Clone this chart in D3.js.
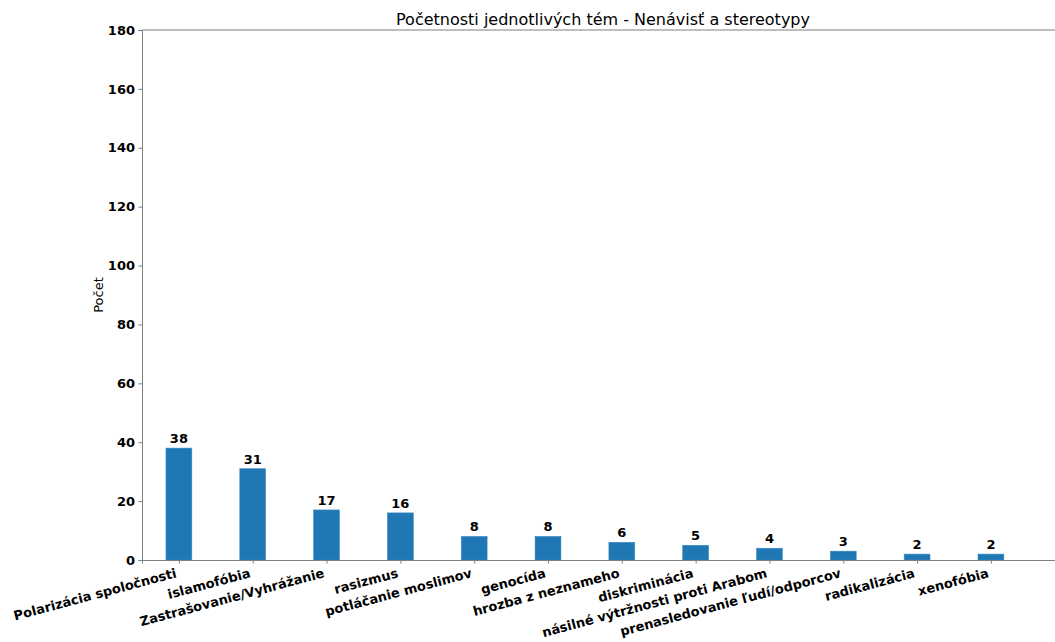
<!DOCTYPE html>
<html><head><meta charset="utf-8">
<script src="https://cdn.jsdelivr.net/npm/d3@7"></script>
<style>body{margin:0;background:#fff;} text{font-family:"DejaVu Sans",sans-serif;}</style>
</head><body><svg id="c" width="1055" height="642"></svg>
<script>
const categories = ["Polarizácia spoločnosti","islamofóbia","Zastrašovanie/Vyhrážanie","rasizmus","potláčanie moslimov","genocída","hrozba z neznameho","diskriminácia","násilné výtržnosti proti Arabom","prenasledovanie ľudí/odporcov","radikalizácia","xenofóbia"];
const counts = [38,31,17,16,8,8,6,5,4,3,2,2];
const yTicks = [0,20,40,60,80,100,120,140,160,180];
const title = "Početnosti jednotlivých tém - Nenávisť a stereotypy";
const yLabel = "Počet";

const svg = d3.select("#c");
const L = 142, R = 1064, T = 30, B = 560;
const x = d3.scaleLinear().domain([-0.5, 11.99]).range([L, R]);
const y = d3.scaleLinear().domain([0, 180]).range([B, T]);
const bw = x(0.35) - x(0);
const axisColor = "#7f7f7f";

// bars
svg.append("g").selectAll("rect").data(counts).join("rect")
  .attr("x", (d,i) => x(i) - bw/2).attr("width", bw)
  .attr("y", d => y(d)).attr("height", d => y(0) - y(d))
  .attr("fill", "#1f77b4").attr("stroke", "#3d8bc2").attr("stroke-width", 0.6);

// value labels
svg.append("g").selectAll("text").data(counts).join("text")
  .attr("x", (d,i) => x(i)).attr("y", d => y(d) - 5)
  .attr("text-anchor", "middle").attr("font-size", 13).attr("font-weight", "bold")
  .attr("fill", "#000").text(d => d);

// y axis
const ya = d3.axisLeft(y).tickValues(yTicks).tickSize(3.5).tickPadding(3.5);
const gy = svg.append("g").attr("transform", `translate(${L},0)`).call(ya);
gy.select(".domain").attr("stroke", axisColor);
gy.selectAll(".tick line").attr("stroke", axisColor);
gy.selectAll(".tick text").attr("font-size", 13).attr("font-weight", "bold")
  .attr("fill", "#000").attr("font-family", "DejaVu Sans");

// x axis
const xa = d3.axisBottom(x).tickValues(d3.range(categories.length)).tickSize(3.5).tickFormat(i => categories[i]);
const gx = svg.append("g").attr("transform", `translate(0,${B})`).call(xa);
gx.select(".domain").attr("stroke", axisColor);
gx.selectAll(".tick line").attr("stroke", axisColor);
gx.selectAll(".tick text").attr("font-size", 13).attr("font-weight", "bold")
  .attr("fill", "#000").attr("font-family", "DejaVu Sans")
  .attr("text-anchor", "end").attr("y", 0).attr("dy", 0)
  .attr("transform", "translate(-2,17) rotate(-15)");

// top spine
svg.append("line").attr("x1", L).attr("x2", R).attr("y1", T).attr("y2", T).attr("stroke", axisColor);

// title
svg.append("text").attr("x", (L+R)/2).attr("y", 25).attr("text-anchor", "middle")
  .attr("font-size", 16).attr("fill", "#000").text(title);

// y label
svg.append("text").attr("transform", `translate(103,${(T+B)/2}) rotate(-90)`)
  .attr("text-anchor", "middle").attr("font-size", 13).attr("fill", "#000").text(yLabel);
</script></body></html>
